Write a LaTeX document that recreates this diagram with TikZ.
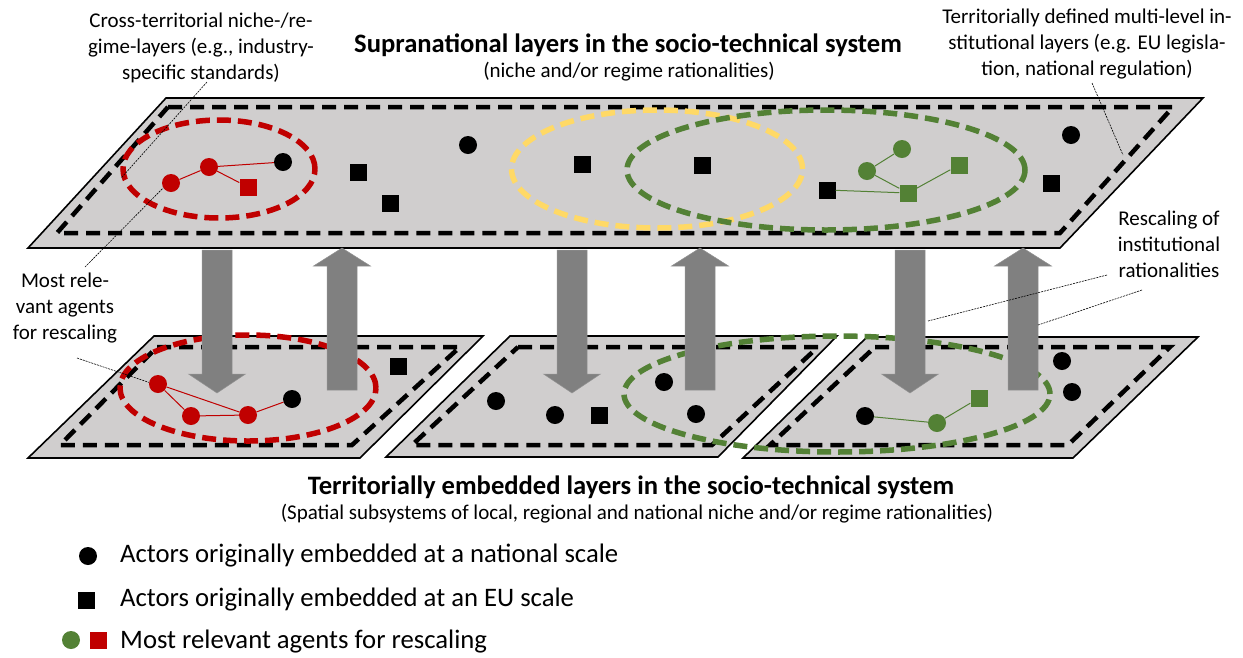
\documentclass[tikz,border=0pt]{standalone}
\usepackage{fontspec}
\setmainfont{Carlito}
\usetikzlibrary{shapes.geometric}
\definecolor{lred}{HTML}{C00000}
\definecolor{lgreen}{HTML}{538135}
\definecolor{lyellow}{HTML}{FFD966}
\definecolor{lgray}{HTML}{D0CECE}
\definecolor{larrow}{HTML}{808080}

\begin{document}
\begin{tikzpicture}[x=1pt,y=-1pt,
  plane/.style={draw=black,line width=1.6pt,fill=lgray},
  rim/.style={draw=black,line width=4.5pt,dash pattern=on 14pt off 8pt},
  ring/.style={ellipse,draw=#1,line width=5.5pt,dash pattern=on 14pt off 7pt,inner sep=0pt},
  dot/.style={circle,fill=#1,minimum size=18pt,inner sep=0pt},
  sq/.style={rectangle,fill=#1,minimum size=17pt,inner sep=0pt},
  tie/.style={draw=#1,line width=1pt},
  blk/.style={fill=larrow,draw=larrow!85!white,line width=0.5pt},
  note/.style={draw=black,line width=0.6pt,dash pattern=on 2pt off 1pt},
  txt/.style={align=center,inner sep=0pt,font=\fontsize{21}{26}\selectfont},
  head/.style={inner sep=0pt,font=\fontsize{26.6}{30}\selectfont\bfseries},
  leg/.style={anchor=west,inner sep=0pt,font=\fontsize{26.7}{30}\selectfont}]
\useasboundingbox (0,0) rectangle (1243,657);

% layers
\draw[plane] (166,98) -- (1203,98) -- (1060,248) -- (28,248) -- cycle;
\draw[rim] (168,107) -- (1173,107) -- (1060,233) -- (57,233) -- cycle;
\draw[plane] (154,336) -- (483,336) -- (360,458) -- (28,458) -- cycle;
\draw[rim] (157,347) -- (460,347) -- (352,445) -- (60,445) -- cycle;
\draw[plane] (510,336) -- (837,336) -- (718,457) -- (386,457) -- cycle;
\draw[rim] (518,347) -- (818,347) -- (712,445) -- (412,445) -- cycle;
\draw[plane] (867,337) -- (1198,337) -- (1073,458) -- (743,458) -- cycle;
\draw[rim] (875,347) -- (1170,347) -- (1068,445) -- (770,445) -- cycle;

% clusters
\node[ring=lred,minimum width=192pt,minimum height=98pt] (redtop) at (219,169) {};
\node[ring=lyellow,minimum width=291pt,minimum height=118pt] (yeltop) at (657,169) {};
\node[ring=lgreen,minimum width=398pt,minimum height=120pt] (greentop) at (826,170) {};
\node[ring=lred,minimum width=256pt,minimum height=106pt] (redlow) at (248,388) {};
\node[ring=lgreen,minimum width=426pt,minimum height=116pt] (greenlow) at (837,394) {};

% actors, supranational layer
\node[dot=lred] (tr1) at (171,183) {};
\node[dot=lred] (tr2) at (209,167) {};
\node[sq=lred] (tr3) at (248,187) {};
\node[dot=black] (tb1) at (283,162) {};
\node[sq=black] (tb2) at (358,172) {};
\node[sq=black] (tb3) at (390,203) {};
\node[dot=black] (tb4) at (468,145) {};
\node[sq=black] (tb5) at (582,164) {};
\node[sq=black] (tb6) at (702,165) {};
\node[sq=black] (tb7) at (827,190) {};
\node[dot=lgreen] (tg1) at (867,171) {};
\node[dot=lgreen] (tg2) at (902,149) {};
\node[sq=lgreen] (tg3) at (908,193) {};
\node[sq=lgreen] (tg4) at (959,165) {};
\node[dot=black] (tb8) at (1071,135) {};
\node[sq=black] (tb9) at (1051,183) {};
\draw[tie=lred] (tr1) -- (tr2);
\draw[tie=lred] (tr2) -- (tb1);
\draw[tie=lred] (tr2) -- (tr3);
\draw[tie=lgreen] (tg1) -- (tg2);
\draw[tie=lgreen] (tg1) -- (tg3);
\draw[tie=lgreen] (tg3) -- (tg4);
\draw[tie=lgreen] (tb7) -- (tg3);

% actors, territorial layers
\node[dot=lred] (lr1) at (158,384) {};
\node[dot=lred] (lr2) at (191,416) {};
\node[dot=lred] (lr3) at (248,415) {};
\node[dot=black] (lb1) at (292,399) {};
\node[sq=black] (lb2) at (398,366) {};
\node[dot=black] (lb3) at (496,401) {};
\node[dot=black] (lb4) at (555,415) {};
\node[sq=black] (lb5) at (599,415) {};
\node[dot=black] (lb6) at (664,382) {};
\node[dot=black] (lb7) at (696,414) {};
\node[dot=black] (lb8) at (865,416) {};
\node[dot=lgreen] (lg1) at (937,423) {};
\node[sq=lgreen] (lg2) at (979,398) {};
\node[dot=black] (lb9) at (1062,361) {};
\node[dot=black] (lb10) at (1072,392) {};
\draw[tie=lred] (lr1) -- (lr2);
\draw[tie=lred] (lr1) -- (lr3);
\draw[tie=lred] (lr2) -- (lr3);
\draw[tie=lred] (lr3) -- (lb1);
\draw[tie=lgreen] (lb8) -- (lg1);
\draw[tie=lgreen] (lg1) -- (lg2);

% rescaling arrows
\foreach \c in {217,572,910}
  \draw[blk] (\c-15,250) -- (\c+15,250) -- (\c+15,374) -- (\c+28.5,374)
    -- (\c,393) -- (\c-28.5,374) -- (\c-15,374) -- cycle;
\foreach \c in {342,700,1023}
  \draw[blk] (\c-15,390) -- (\c+15,390) -- (\c+15,266) -- (\c+28.5,266)
    -- (\c,248) -- (\c-28.5,266) -- (\c-15,266) -- cycle;

% texts
\node[head] (toptitle) at (628,45) {Supranational layers in the socio-technical system};
\node[txt] (topsub) at (629,72) {(niche and/or regime rationalities)};
\node[head] (lowtitle) at (631,487) {Territorially embedded layers in the socio-technical system};
\node[txt] (lowsub) at (637,514) {(Spatial subsystems of local, regional and national niche and/or regime rationalities)};
\node[txt] (crossnote) at (201,48) {Cross-territorial niche-/re-\\gime-layers (e.g., industry-\\specific standards)};
\node[txt] (terrnote) at (1087,44) {Territorially defined multi-level in-\\stitutional layers (e.g. EU legisla-\\tion, national regulation)};
\node[txt] (relnote) at (65,308) {Most rele-\\vant agents\\for rescaling};
\node[txt] (rescnote) at (1169,244) {Rescaling of\\institutional\\rationalities};

% pointers
\coordinate (c1) at (207,82);
\coordinate (c2) at (85,267);
\coordinate (c3) at (77,358);
\coordinate (c4) at (1092,83);
\coordinate (c5) at (1123,155);
\coordinate (c6) at (1107,275);
\coordinate (c7) at (928,321);
\coordinate (c8) at (1142,290);
\coordinate (c9) at (1038,325);
\draw[note] (c1) -- (redtop.185);
\draw[note] (c2) -- (tr1.212);
\draw[note] (c3) -- (lr1.170);
\draw[note] (c4) -- (c5);
\draw[note] (c6) -- (c7);
\draw[note] (c8) -- (c9);

% legend
\node[dot=black] (k1) at (88,556) {};
\node[leg] (k1t) at (120,556) {Actors originally embedded at a national scale};
\node[sq=black] (k2) at (86,600) {};
\node[leg] (k2t) at (120,600) {Actors originally embedded at an EU scale};
\node[dot=lgreen] (k3) at (71,640) {};
\node[sq=lred] (k4) at (98,640) {};
\node[leg] (k3t) at (120,642) {Most relevant agents for rescaling};
\end{tikzpicture}
\end{document}
